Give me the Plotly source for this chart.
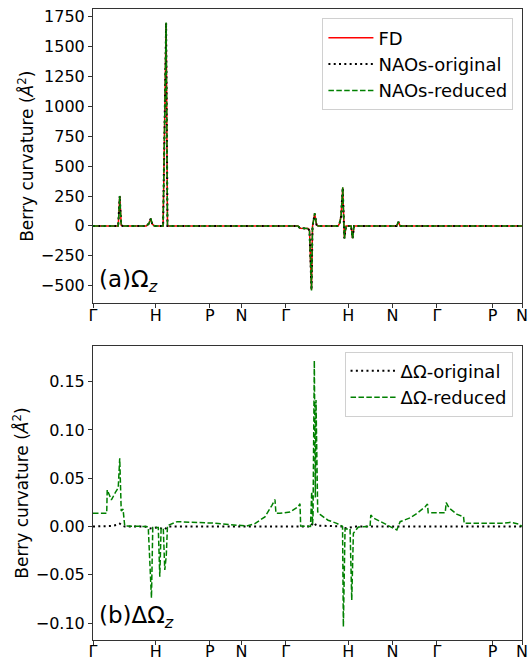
import plotly.graph_objects as go

# ---------------- data ----------------
# k-path coordinate (path length along high-symmetry lines)
TICK_POS = [0.0, 1.003, 1.867, 2.374, 3.078, 4.080, 4.784, 5.494, 6.384, 6.854]
TICK_LABELS = ["Γ", "H", "P", "N", "Γ", "H", "N", "Γ", "P", "N"]

# Panel (a): Berry curvature Omega_z
K_TOP = [0.000, 0.403, 0.427, 0.451, 0.475, 0.851, 0.891, 0.923, 0.947, 0.979,
         1.120, 1.168, 1.190, 3.275, 3.307, 3.435, 3.459, 3.491, 3.507, 3.542,
         3.571, 3.595, 3.915, 3.939, 3.963, 3.990, 4.016, 4.043, 4.123, 4.147,
         4.171, 4.851, 4.880, 4.907, 6.854]
FD = [0, 0, 248, 5, 0, 0, 18, 60, 15, 0,
      0, 1695, 0, 0, -20, -22, -40, -535, -5, 102,
      10, 0, 0, 20, 80, 318, -103, 0, 0, -103,
      0, 0, 33, 0, 0]
NAOS_ORIGINAL = [0, 0, 250, 5, 0, 0, 18, 61, 15, 0,
                 0, 1698, 0, 0, -20, -22, -40, -537, -5, 103,
                 10, 0, 0, 20, 80, 320, -104, 0, 0, -104,
                 0, 0, 33, 0, 0]
NAOS_REDUCED = [0, 0, 252, 5, 0, 0, 18, 62, 15, 0,
                0, 1702, 0, 0, -20, -22, -40, -540, -5, 106,
                10, 0, 0, 20, 80, 322, -106, 0, 0, -106,
                0, 0, 34, 0, 0]

# Panel (b): Delta Omega_z
K_DORIG = [0.000, 0.300, 0.395, 0.427, 0.459, 0.507, 0.827, 0.907, 1.034, 1.147,
           1.195, 3.483, 3.507, 3.539, 3.563, 3.995, 4.011, 4.139, 4.203, 6.854]
D_ORIGINAL = [0.0, 0.0005, 0.002, 0.003, 0.001, 0.0, 0.0, -0.002, -0.001, -0.003,
              0.0, 0.0, 0.003, 0.004, 0.001, 0.0, -0.002, -0.001, 0.0, 0.0]

K_DRED = [0.000, 0.219, 0.227, 0.294, 0.363, 0.403, 0.427, 0.451, 0.480, 0.507,
          0.859, 0.883, 0.934, 0.955, 1.043, 1.067, 1.088, 1.123, 1.147, 1.171,
          1.190, 1.344, 1.920, 2.454, 2.587, 2.747, 2.859, 2.907, 2.923, 2.987,
          3.147, 3.280, 3.307, 3.318, 3.475, 3.494, 3.507, 3.515, 3.536, 3.552,
          3.563, 3.590, 3.627, 3.680, 3.755, 3.894, 3.987, 4.000, 4.027, 4.107,
          4.134, 4.160, 4.240, 4.427, 4.438, 4.491, 4.587, 4.854, 4.907, 4.960,
          5.067, 5.174, 5.227, 5.307, 5.344, 5.355, 5.627, 5.643, 5.691, 5.734,
          5.819, 5.920, 5.931, 6.555, 6.667, 6.800, 6.854]
D_REDUCED = [0.0137, 0.0137, 0.038, 0.0275, 0.036, 0.040, 0.0707, 0.016, 0.018, 0.0005,
             0.0, -0.001, -0.074, -0.001, -0.001, -0.052, -0.002, -0.002, -0.045, -0.030,
             0.001, 0.005, 0.0035, 0.0005, 0.003, 0.010, 0.022, 0.028, 0.0137, 0.0137,
             0.015, 0.0205, 0.0236, 0.0005, 0.0, 0.036, 0.002, 0.010, 0.172, 0.030,
             0.131, 0.0153, 0.0125, 0.0102, 0.0065, 0.0033, 0.0, -0.1038, -0.0025, -0.0025,
             -0.0762, -0.007, -0.0005, 0.0, 0.0119, 0.0085, 0.0054, -0.0036, 0.005, 0.0066,
             0.009, 0.0135, 0.016, 0.0204, 0.0232, 0.0143, 0.0143, 0.0247, 0.019, 0.0167,
             0.0125, 0.0102, 0.0033, 0.0033, 0.0043, 0.0026, 0.0]

# ---------------- figure ----------------
FONT = "DejaVu Sans"
DASHED = "5.5px,2.4px"
DOTTED = "2px,3.3px"
fig = go.Figure()

fig.add_trace(go.Scatter(x=K_TOP, y=FD, mode="lines", name="FD",
                         line=dict(color="#ff0000", width=1.5), xaxis="x", yaxis="y",
                         legend="legend"))
fig.add_trace(go.Scatter(x=K_TOP, y=NAOS_ORIGINAL, mode="lines", name="NAOs-original",
                         line=dict(color="black", width=2, dash=DOTTED), xaxis="x", yaxis="y",
                         legend="legend"))
fig.add_trace(go.Scatter(x=K_TOP, y=NAOS_REDUCED, mode="lines", name="NAOs-reduced",
                         line=dict(color="#008000", width=1.5, dash=DASHED), xaxis="x", yaxis="y",
                         legend="legend"))

fig.add_trace(go.Scatter(x=K_DORIG, y=D_ORIGINAL, mode="lines", name="ΔΩ-original",
                         line=dict(color="black", width=2, dash=DOTTED), xaxis="x2", yaxis="y2",
                         legend="legend2"))
fig.add_trace(go.Scatter(x=K_DRED, y=D_REDUCED, mode="lines", name="ΔΩ-reduced",
                         line=dict(color="#008000", width=1.5, dash=DASHED), xaxis="x2", yaxis="y2",
                         legend="legend2"))

axis_common = dict(showline=True, linecolor="#333333", linewidth=1, mirror=True,
                   ticks="outside", ticklen=4, tickcolor="#333333", showgrid=False,
                   zeroline=False, automargin=False,
                   tickfont=dict(family=FONT, size=16, color="black"))

YTITLE = dict(text="Berry curvature (<i>Å</i><sup>2</sup>)",
              font=dict(family=FONT, size=17), standoff=2)

fig.update_layout(
    width=529, height=660,
    margin=dict(l=93, r=7, t=9, b=20, autoexpand=False),
    paper_bgcolor="white", plot_bgcolor="white",
    font=dict(family=FONT, color="black"),
    xaxis=dict(domain=[0, 1], anchor="y", range=[TICK_POS[0], TICK_POS[-1]],
               tickmode="array", tickvals=TICK_POS, ticktext=TICK_LABELS,
               ticklabelstandoff=-7, **axis_common),
    yaxis=dict(domain=[0.5333, 1], anchor="x", range=[-649, 1814],
               tickmode="array", tickvals=[-500, -250, 0, 250, 500, 750, 1000, 1250, 1500, 1750],
               title=YTITLE, **axis_common),
    xaxis2=dict(domain=[0, 1], anchor="y2", range=[TICK_POS[0], TICK_POS[-1]],
                tickmode="array", tickvals=TICK_POS, ticktext=TICK_LABELS,
                ticklabelstandoff=-7, **axis_common),
    yaxis2=dict(domain=[0, 0.4659], anchor="x2", range=[-0.1176, 0.187],
                tickmode="array", tickvals=[-0.10, -0.05, 0.0, 0.05, 0.10, 0.15],
                tickformat=".2f", title=YTITLE, **axis_common),
    legend=dict(x=0.980, y=0.985, xanchor="right", yanchor="top", itemwidth=45,
                bgcolor="rgba(255,255,255,0.8)", bordercolor="#d0d0d0", borderwidth=1,
                font=dict(family=FONT, size=18)),
    legend2=dict(x=0.978, y=0.457, xanchor="right", yanchor="top", itemwidth=45,
                 bgcolor="rgba(255,255,255,0.8)", bordercolor="#d0d0d0", borderwidth=1,
                 font=dict(family=FONT, size=18)),
    annotations=[
        dict(text="(a)Ω<sub><i>z</i></sub>", xref="x domain", yref="y domain",
             x=0.01, y=0.02, xanchor="left", yanchor="bottom", showarrow=False,
             font=dict(family=FONT, size=23, color="black")),
        dict(text="(b)ΔΩ<sub><i>z</i></sub>", xref="x2 domain", yref="y2 domain",
             x=0.01, y=0.02, xanchor="left", yanchor="bottom", showarrow=False,
             font=dict(family=FONT, size=23, color="black")),
    ],
)

fig.write_html("out.html", config={"displayModeBar": False},
               post_script="document.body.style.margin='0px';document.body.style.overflow='hidden';")
